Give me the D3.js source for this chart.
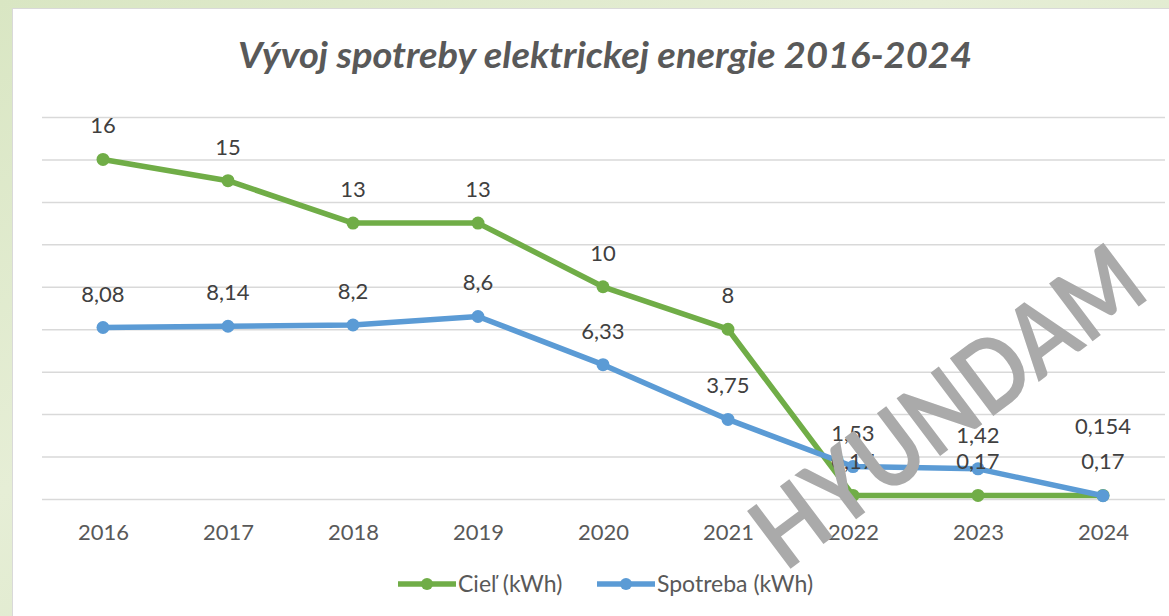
<!DOCTYPE html>
<html>
<head>
<meta charset="utf-8">
<script src="https://cdn.jsdelivr.net/npm/d3@7"></script>
<style>
  html, body { margin: 0; padding: 0; overflow: hidden; }
  svg { display: block; }
  text { font-family: Lato, "Open Sans", sans-serif; }
</style>
</head>
<body>
<svg width="1169" height="616"></svg>
<script>
var years = ["2016", "2017", "2018", "2019", "2020", "2021", "2022", "2023", "2024"];
var ciel = [16, 15, 13, 13, 10, 8, 0.17, 0.17, 0.17];
var spotreba = [8.08, 8.14, 8.2, 8.6, 6.33, 3.75, 1.53, 1.42, 0.154];
var yTicks = [0, 2, 4, 6, 8, 10, 12, 14, 16, 18];
var seriesNames = ["Cieľ (kWh)", "Spotreba (kWh)"];
var colors = ["#70ad47", "#5b9bd5"];

var svg = d3.select("svg");

// pozadie
var defs = svg.append("defs");
var grad = defs.append("linearGradient").attr("id", "bg")
  .attr("x1", 0).attr("y1", 0).attr("x2", 1).attr("y2", 1);
grad.append("stop").attr("offset", "0%").attr("stop-color", "#d9e6c3");
grad.append("stop").attr("offset", "40%").attr("stop-color", "#e6eed6");
grad.append("stop").attr("offset", "100%").attr("stop-color", "#d3e3bd");
svg.append("rect").attr("width", 1169).attr("height", 616).attr("fill", "url(#bg)");

svg.append("rect")
  .attr("x", 12.5).attr("y", 8.5)
  .attr("width", 1170).attr("height", 620)
  .attr("fill", "#fff")
  .attr("stroke", "#d9d9d9");

var x = d3.scalePoint().domain(years).range([103, 1103]);
var y = d3.scaleLinear().domain([0, 18]).range([499, 117]);

// title
svg.append("text")
  .attr("x", 605).attr("y", 68)
  .attr("text-anchor", "middle")
  .attr("font-size", 36)
  .attr("font-weight", "bold")
  .attr("font-style", "italic")
  .attr("fill", "#595959")
  .attr("textLength", 734)
  .attr("lengthAdjust", "spacingAndGlyphs")
  .text("Vývoj spotreby elektrickej energie 2016-2024");

// gridlines
svg.append("g")
  .attr("transform", "translate(42,0)")
  .call(d3.axisLeft(y).tickValues(yTicks).tickSize(-1123).tickFormat(""))
  .call(function(g) {
    g.select(".domain").remove();
    g.selectAll("line").attr("stroke", "#d9d9d9").attr("stroke-width", 1.5);
  });

// x axis
svg.append("g")
  .attr("transform", "translate(0,499)")
  .call(d3.axisBottom(x).tickSize(0).tickPadding(25))
  .call(function(g) {
    g.select(".domain").remove();
    g.selectAll("text")
      .attr("font-size", 22)
      .attr("fill", "#595959")
      .attr("font-family", "Lato, sans-serif");
  });

var all = [ciel, spotreba];
var line = d3.line()
  .x(function(d, i) { return x(years[i]); })
  .y(function(d) { return y(d); });

all.forEach(function(s, k) {
  svg.append("path")
    .datum(s)
    .attr("d", line)
    .attr("fill", "none")
    .attr("stroke", colors[k])
    .attr("stroke-width", 5.5)
    .attr("stroke-linejoin", "round");
  svg.selectAll(".pt" + k)
    .data(s)
    .enter().append("circle")
    .attr("class", "pt" + k)
    .attr("cx", function(d, i) { return x(years[i]); })
    .attr("cy", function(d) { return y(d); })
    .attr("r", 6.5)
    .attr("fill", colors[k]);
});

// data labels, modra sa posunie hore ak sa prekryva
var fmt = function(v) { return String(v).replace(".", ","); };
var placed = years.map(function() { return []; });
all.forEach(function(s, k) {
  s.forEach(function(v, i) {
    var ly = y(v) - 26;
    placed[i].forEach(function(p) {
      if (Math.abs(p - ly) < 22) ly = p - 35;
    });
    placed[i].push(ly);
    svg.append("text")
      .attr("x", x(years[i]))
      .attr("y", ly)
      .attr("text-anchor", "middle")
      .attr("font-size", 22)
      .attr("fill", "#404040")
      .text(fmt(v));
  });
});

// legend
var legX = [398, 597];
seriesNames.forEach(function(n, k) {
  var lg = svg.append("g").attr("transform", "translate(" + legX[k] + ",584)");
  lg.append("line").attr("x1", 0).attr("x2", 58).attr("y1", 0).attr("y2", 0)
    .attr("stroke", colors[k]).attr("stroke-width", 5.5);
  lg.append("circle").attr("cx", 29).attr("cy", 0).attr("r", 6).attr("fill", colors[k]);
  lg.append("text").attr("x", 60).attr("y", 8)
    .attr("font-size", 23).attr("fill", "#595959").text(n);
});

// watermark
svg.append("text")
  .attr("transform", "translate(785,573) rotate(-37)")
  .attr("font-family", "Liberation Sans, Arial, sans-serif")
  .attr("font-size", 100)
  .attr("font-weight", "bold")
  .attr("fill", "#aaaaaa")
  .attr("textLength", 460)
  .attr("lengthAdjust", "spacingAndGlyphs")
  .text("HYUNDAM");
</script>
</body>
</html>
